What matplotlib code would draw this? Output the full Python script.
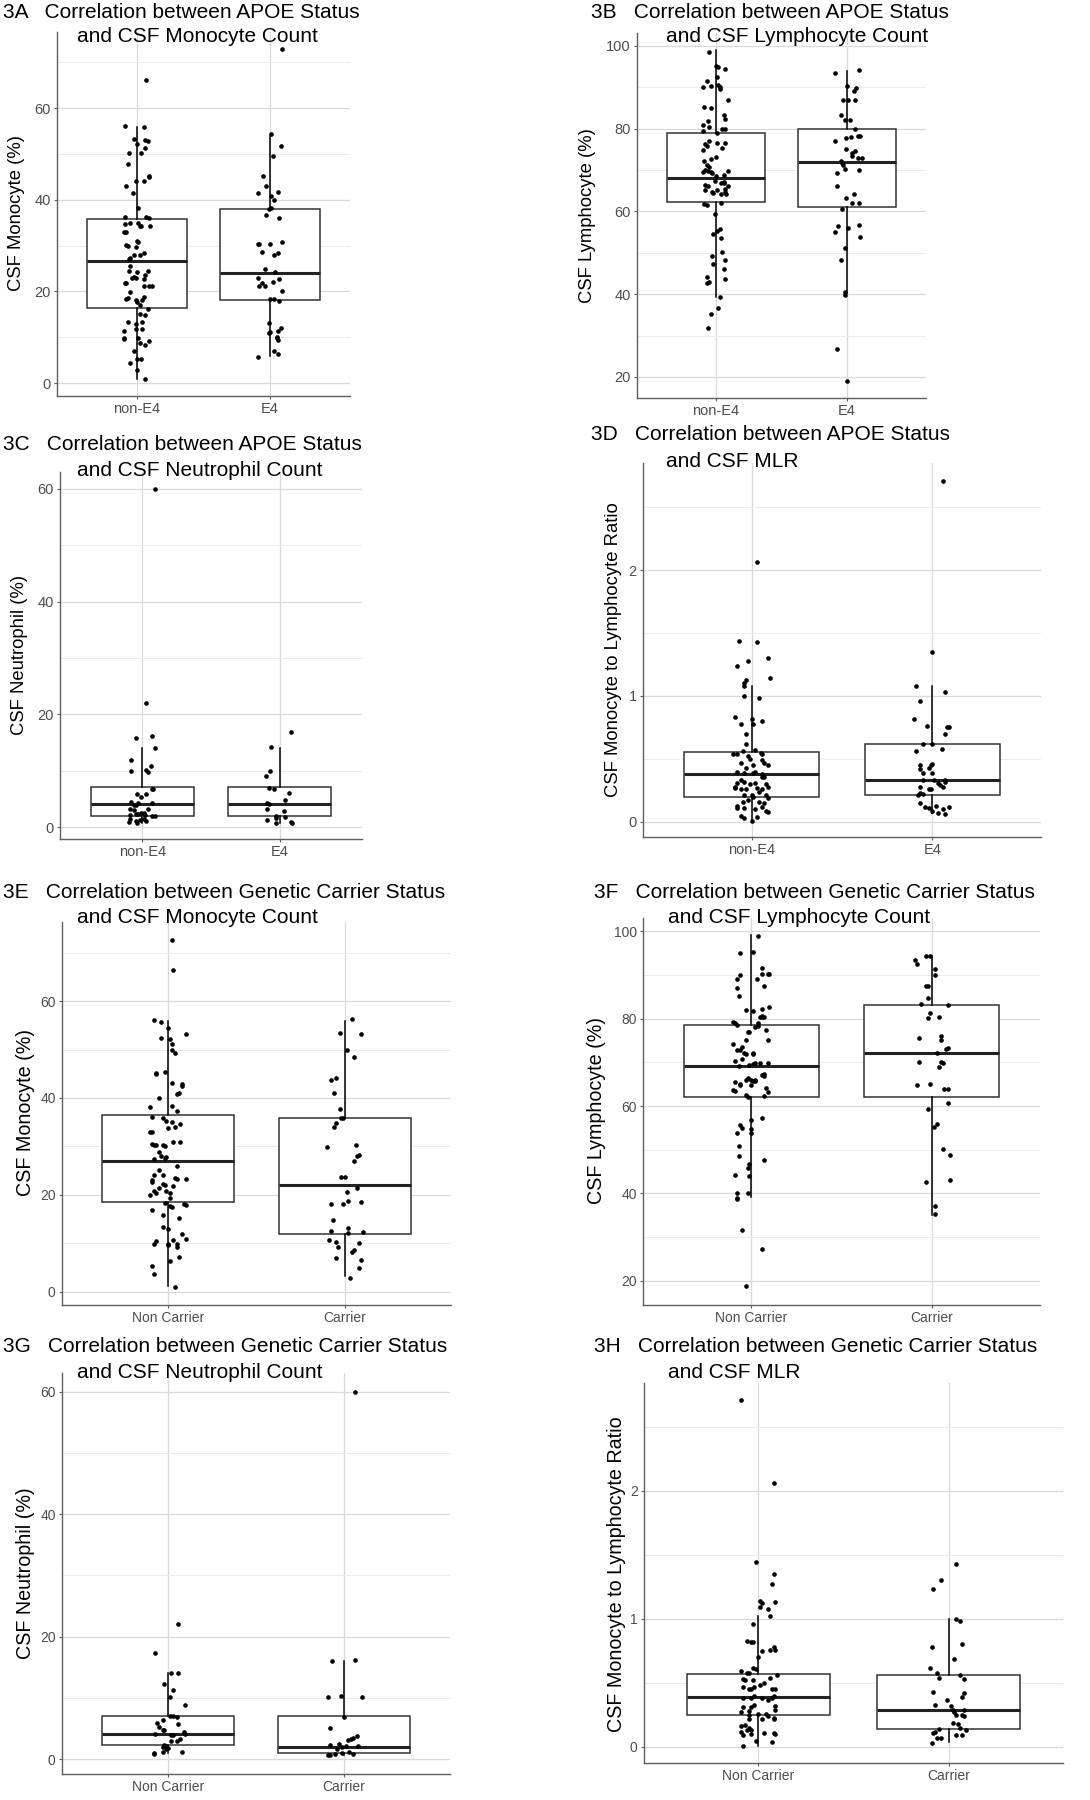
import matplotlib
matplotlib.use("Agg")
import matplotlib.pyplot as plt
from matplotlib.ticker import FixedLocator

plt.rcParams['font.family'] = ['Liberation Sans', 'DejaVu Sans']

W, H = 1090, 1800

# ---- data: each point is (horizontal jitter, value) ----
apoe_groups = ["non-E4", "E4"]
carrier_groups = ["Non Carrier", "Carrier"]

# box stats per group: (q1, median, q3, whisker low, whisker high)
box_a = [(16.3, 26.7, 35.8, 1.0, 55.9), (18.1, 24.0, 37.9, 6.0, 54.0)]
box_b = [(62.3, 68.0, 79.0, 39.2, 99.0), (61.0, 72.0, 80.0, 40.2, 94.0)]
box_c = [(2.0, 4.15, 7.05, 0.8, 14.0), (2.0, 4.15, 7.05, 0.8, 14.0)]
box_d = [(0.198, 0.383, 0.555, 0.01, 1.08), (0.217, 0.33, 0.616, 0.069, 1.08)]
box_e = [(18.5, 27.1, 36.5, 1.2, 55.9), (12.0, 22.1, 35.9, 3.2, 55.9)]
box_f = [(62.1, 69.1, 78.6, 39.2, 99.0), (62.1, 72.2, 83.1, 35.1, 94.3)]
box_g = [(2.3, 4.1, 7.0, 1.0, 14.0), (0.93, 2.0, 7.0, 0.6, 16.0)]
box_h = [(0.248, 0.389, 0.571, 0.01, 1.02), (0.143, 0.29, 0.558, 0.037, 1.0)]

pts_a_non = [(0.07, 66.1), (-0.09, 56.0), (0.05, 55.9), (-0.02, 53.2), (0.0, 52.2), (0.06, 53.1), (0.08, 52.8),
             (-0.06, 50.3), (0.03, 50.3), (0.06, 51.2), (-0.07, 47.9), (-0.01, 44.0), (0.05, 44.1), (0.09, 45.0),
             (0.09, 45.1), (-0.08, 43.1), (-0.03, 41.4), (0.01, 38.2), (-0.09, 36.2), (-0.05, 35.0), (-0.09, 34.7),
             (0.01, 35.0), (0.02, 34.2), (0.03, 34.3), (0.07, 36.2), (0.09, 36.0), (0.10, 34.2), (-0.08, 32.9),
             (-0.10, 32.9), (-0.08, 30.2), (0.0, 31.1), (0.01, 30.9), (-0.01, 29.8), (-0.07, 30.0), (0.02, 28.0),
             (-0.02, 27.9), (0.05, 28.3), (-0.05, 27.2), (-0.06, 27.0), (-0.05, 25.6), (-0.06, 24.4), (0.0, 24.3),
             (0.08, 24.4), (0.06, 23.5), (-0.02, 23.2), (-0.01, 22.9), (-0.04, 23.0), (0.05, 22.7), (-0.08, 21.9),
             (-0.09, 21.9), (0.11, 21.1), (0.09, 21.2), (0.05, 21.2), (-0.05, 19.8), (-0.07, 18.5), (-0.08, 18.4),
             (0.05, 18.8), (0.04, 18.2), (-0.01, 18.1), (0.0, 17.8), (0.02, 17.0), (0.08, 16.2), (0.02, 15.1),
             (0.06, 14.9), (-0.07, 13.3), (0.04, 13.3), (-0.01, 12.9), (0.04, 11.9), (-0.01, 11.9), (-0.10, 11.4),
             (-0.10, 9.9), (-0.10, 9.6), (0.01, 9.8), (0.02, 8.8), (0.09, 9.2), (0.06, 8.3), (-0.02, 7.1),
             (0.0, 5.3), (0.03, 5.3), (-0.05, 4.4), (0.0, 2.8), (0.06, 0.9)]
pts_a_e4 = [(0.09, 72.9), (0.01, 54.3), (0.08, 51.8), (0.02, 49.5), (-0.05, 45.2), (-0.03, 43.0), (-0.09, 41.4),
            (0.01, 40.8), (0.03, 40.0), (0.06, 41.7), (-0.01, 38.0), (0.01, 38.2), (-0.03, 36.7), (0.07, 36.1),
            (0.09, 30.9), (-0.09, 30.3), (-0.08, 30.3), (0.0, 30.3), (-0.06, 28.6), (0.03, 27.9), (0.06, 28.3),
            (-0.04, 24.9), (0.04, 24.3), (-0.09, 23.0), (0.07, 22.8), (-0.06, 21.8), (0.02, 22.1), (-0.08, 21.1),
            (-0.04, 21.1), (0.09, 20.2), (0.0, 18.4), (0.03, 18.4), (0.07, 17.9), (-0.01, 13.1), (0.08, 12.1),
            (0.06, 11.4), (-0.01, 10.9), (0.0, 11.1), (0.05, 10.0), (0.06, 9.5), (0.05, 9.8), (0.03, 7.1),
            (0.06, 6.3), (-0.09, 5.8)]

pts_b_non = [(-0.05, 98.6), (0.0, 95.1), (0.02, 95.0), (0.07, 94.3), (-0.07, 91.5), (0.01, 92.4), (-0.10, 90.0),
             (-0.04, 90.3), (0.02, 90.6), (0.03, 89.5), (0.03, 90.1), (0.09, 87.0), (-0.09, 85.2), (-0.04, 84.9),
             (0.06, 83.3), (0.07, 82.2), (-0.06, 81.9), (-0.10, 80.8), (-0.05, 80.3), (0.05, 80.0), (0.07, 79.8),
             (-0.10, 79.3), (0.01, 79.0), (-0.05, 76.9), (-0.08, 76.2), (-0.07, 75.9), (0.01, 76.6), (0.07, 76.6),
             (0.05, 75.2), (-0.10, 74.8), (0.0, 73.2), (-0.09, 72.2), (-0.04, 72.6), (-0.07, 71.3), (-0.05, 70.8),
             (-0.06, 69.8), (-0.08, 70.0), (-0.10, 69.6), (-0.04, 69.5), (-0.03, 69.3), (0.0, 68.6), (0.09, 69.7),
             (0.06, 68.8), (-0.01, 67.3), (0.06, 66.9), (-0.08, 66.4), (-0.06, 66.2), (0.04, 66.8), (0.06, 67.2),
             (0.09, 66.2), (-0.08, 65.1), (-0.03, 64.7), (0.01, 65.1), (0.07, 65.3), (0.07, 64.6), (-0.02, 64.5),
             (0.04, 64.1), (0.08, 64.1), (-0.09, 61.7), (-0.07, 61.5), (0.04, 62.0), (-0.01, 59.4), (-0.02, 54.6),
             (0.01, 55.3), (0.03, 55.7), (0.04, 53.6), (0.05, 50.1), (-0.03, 49.1), (0.07, 48.3), (-0.02, 47.4),
             (0.06, 46.0), (-0.07, 44.1), (0.07, 43.6), (-0.07, 42.8), (-0.05, 43.0), (0.03, 39.3), (0.02, 36.7),
             (-0.04, 35.3), (-0.06, 31.8)]
pts_b_e4 = [(-0.09, 93.4), (0.09, 94.2), (0.0, 90.4), (0.05, 89.1), (0.07, 89.7), (-0.03, 86.8), (0.01, 86.8),
            (0.06, 86.8), (-0.05, 83.3), (-0.02, 82.0), (0.02, 82.0), (0.06, 80.0), (0.08, 78.3), (0.10, 78.1),
            (-0.01, 77.7), (0.03, 77.9), (-0.09, 77.1), (-0.01, 75.0), (0.06, 74.6), (0.04, 74.0), (0.04, 73.4),
            (0.08, 73.0), (0.11, 73.0), (-0.05, 72.2), (-0.04, 71.8), (-0.03, 71.3), (-0.02, 70.2), (0.09, 70.1),
            (-0.08, 69.2), (-0.08, 66.2), (0.05, 64.1), (-0.01, 63.2), (0.04, 62.0), (0.09, 61.9), (-0.04, 60.6),
            (0.09, 56.8), (-0.07, 56.5), (0.01, 55.9), (-0.09, 55.0), (0.10, 53.9), (-0.02, 51.2), (-0.05, 48.2),
            (-0.02, 40.4), (-0.02, 39.9), (-0.08, 26.7), (0.0, 19.0)]

pts_c_non = [(0.09, 60.0), (0.03, 22.0), (-0.05, 15.9), (0.07, 16.1), (0.09, 14.0), (-0.08, 11.9), (0.06, 10.8),
             (-0.08, 10.0), (0.03, 10.1), (0.04, 9.7), (0.08, 6.8), (0.07, 6.7), (-0.04, 5.8), (0.03, 5.8),
             (-0.01, 5.3), (-0.08, 4.4), (-0.03, 4.3), (-0.05, 3.9), (0.07, 4.3), (-0.06, 3.9), (-0.09, 3.3),
             (0.04, 3.3), (-0.06, 3.1), (0.01, 2.6), (-0.01, 2.5), (-0.05, 2.4), (-0.03, 2.3), (-0.09, 2.2),
             (0.09, 1.9), (0.07, 2.0), (0.02, 2.1), (-0.09, 1.5), (-0.05, 1.1), (-0.02, 1.3), (0.01, 1.5),
             (-0.10, 1.0), (-0.04, 0.8), (0.03, 1.1)]
pts_c_e4 = [(0.08, 16.9), (-0.06, 14.3), (-0.07, 9.9), (-0.10, 9.1), (-0.08, 7.0), (-0.04, 6.8), (0.07, 6.0),
            (0.04, 4.8), (-0.09, 4.3), (-0.08, 4.1), (-0.09, 3.3), (0.03, 2.8), (-0.03, 2.0), (0.04, 1.8),
            (-0.03, 1.6), (-0.09, 1.2), (0.08, 1.0), (0.09, 0.8), (-0.03, 0.8)]

pts_d_non = [(0.03, 2.06), (-0.07, 1.44), (0.03, 1.43), (0.09, 1.30), (-0.02, 1.28), (-0.08, 1.24), (0.10, 1.14),
             (-0.03, 1.13), (-0.04, 1.10), (-0.04, 1.08), (-0.04, 1.00), (0.04, 0.98), (-0.09, 0.83), (0.0, 0.82),
             (0.01, 0.78), (-0.06, 0.78), (0.06, 0.80), (-0.03, 0.70), (-0.03, 0.62), (-0.10, 0.54), (-0.08, 0.54),
             (-0.05, 0.56), (-0.02, 0.52), (0.02, 0.57), (0.05, 0.55), (0.06, 0.54), (0.06, 0.49), (0.07, 0.47),
             (-0.01, 0.50), (-0.06, 0.47), (0.01, 0.45), (0.09, 0.45), (-0.03, 0.43), (-0.08, 0.40), (0.01, 0.39),
             (0.02, 0.40), (0.06, 0.38), (0.07, 0.36), (-0.04, 0.39), (0.06, 0.36), (-0.06, 0.33), (-0.04, 0.32),
             (-0.08, 0.31), (0.02, 0.31), (-0.01, 0.30), (0.08, 0.30), (-0.09, 0.28), (-0.09, 0.27), (-0.06, 0.26),
             (-0.03, 0.26), (0.03, 0.27), (0.09, 0.28), (0.06, 0.26), (0.04, 0.24), (-0.04, 0.21), (0.0, 0.21),
             (0.01, 0.20), (0.08, 0.21), (0.09, 0.19), (-0.05, 0.16), (-0.02, 0.17), (0.04, 0.16), (0.07, 0.15),
             (-0.08, 0.13), (-0.08, 0.11), (-0.04, 0.11), (0.02, 0.10), (0.06, 0.12), (0.08, 0.09), (0.09, 0.08),
             (-0.06, 0.05), (-0.04, 0.03), (0.03, 0.04), (0.0, 0.01)]
pts_d_e4 = [(0.06, 2.71), (0.0, 1.35), (-0.09, 1.08), (0.07, 1.03), (-0.07, 0.96), (-0.10, 0.82), (-0.03, 0.76),
            (0.08, 0.75), (0.09, 0.75), (0.07, 0.70), (-0.05, 0.62), (0.0, 0.62), (0.05, 0.58), (-0.09, 0.56),
            (-0.07, 0.45), (0.0, 0.46), (-0.01, 0.45), (-0.02, 0.43), (-0.07, 0.42), (-0.05, 0.39), (0.0, 0.39),
            (-0.05, 0.33), (0.01, 0.33), (0.07, 0.33), (0.07, 0.32), (-0.07, 0.28), (-0.02, 0.26), (-0.01, 0.26),
            (0.04, 0.29), (0.06, 0.28), (0.03, 0.31), (-0.07, 0.23), (-0.08, 0.21), (-0.05, 0.22), (-0.07, 0.15),
            (-0.04, 0.12), (-0.02, 0.11), (0.02, 0.13), (0.09, 0.12), (0.06, 0.10), (0.03, 0.07), (0.07, 0.06),
            (0.0, 0.09)]

pts_e_non = [(0.02, 72.6), (0.03, 66.4), (-0.08, 56.1), (-0.04, 55.7), (0.0, 54.4), (0.10, 53.2), (-0.04, 52.3),
             (0.01, 52.2), (0.02, 51.1), (0.02, 50.0), (0.04, 49.2), (-0.07, 45.2), (-0.07, 44.9), (-0.02, 45.3),
             (0.02, 43.0), (0.08, 42.9), (0.08, 42.5), (0.05, 40.8), (0.06, 41.0), (-0.05, 40.0), (-0.10, 38.1),
             (0.02, 38.3), (0.05, 37.4), (-0.09, 36.0), (-0.03, 35.8), (-0.01, 35.2), (0.02, 35.1), (0.07, 34.7),
             (0.0, 33.8), (0.04, 34.0), (-0.10, 32.9), (-0.09, 32.9), (0.03, 31.0), (0.07, 30.9), (-0.09, 30.5),
             (-0.08, 30.2), (-0.07, 30.4), (-0.03, 30.2), (-0.02, 30.0), (-0.05, 28.8), (-0.04, 28.1), (-0.01, 27.8),
             (-0.08, 27.4), (-0.02, 27.6), (0.05, 26.0), (-0.05, 25.2), (-0.08, 24.1), (-0.03, 24.1), (-0.09, 23.0),
             (-0.09, 22.6), (0.04, 23.4), (0.05, 23.2), (0.10, 23.3), (-0.05, 21.4), (-0.08, 20.9), (-0.03, 22.3),
             (-0.02, 22.1), (0.03, 21.9), (-0.01, 20.8), (0.01, 20.5), (-0.07, 20.3), (-0.10, 20.0), (0.01, 19.4),
             (-0.02, 18.4), (0.09, 18.1), (0.10, 17.9), (0.01, 17.7), (0.02, 17.5), (-0.09, 16.8), (-0.03, 15.8),
             (0.06, 15.3), (-0.03, 13.4), (0.0, 13.0), (0.08, 12.0), (0.03, 10.8), (0.10, 10.9), (-0.07, 10.6),
             (-0.08, 9.9), (0.0, 9.8), (0.05, 9.8), (0.05, 9.2), (0.0, 9.6), (0.06, 7.1), (0.01, 6.4),
             (-0.09, 5.3), (-0.08, 3.7), (0.04, 1.0)]
pts_e_car = [(0.04, 56.3), (-0.03, 53.4), (0.09, 53.1), (0.01, 49.8), (0.05, 48.4), (-0.08, 43.7), (-0.05, 44.2),
             (-0.06, 41.0), (-0.03, 37.7), (-0.02, 35.8), (-0.01, 35.8), (-0.05, 34.9), (-0.06, 34.0), (-0.10, 29.8),
             (0.06, 30.2), (0.07, 28.1), (0.08, 28.2), (0.05, 27.1), (-0.02, 23.8), (0.0, 23.8), (0.07, 21.5),
             (0.01, 20.6), (0.02, 18.7), (-0.01, 18.1), (0.09, 18.6), (-0.08, 18.1), (-0.07, 14.9), (0.02, 13.2),
             (-0.08, 12.6), (0.10, 12.4), (0.02, 12.1), (-0.09, 10.7), (-0.05, 10.2), (0.08, 10.0), (-0.04, 9.3),
             (0.05, 8.7), (0.04, 8.2), (-0.05, 6.9), (0.09, 6.5), (0.08, 4.9), (0.03, 2.9)]

pts_f_non = [(0.04, 98.9), (-0.06, 95.1), (0.01, 95.2), (0.06, 91.5), (-0.08, 89.0), (-0.06, 90.0), (0.03, 89.1),
             (0.06, 90.2), (0.09, 90.2), (0.10, 90.1), (0.07, 87.5), (-0.08, 87.1), (-0.07, 85.2), (-0.03, 82.0),
             (0.01, 81.7), (0.06, 82.2), (0.10, 82.6), (0.05, 80.4), (0.06, 80.4), (0.07, 80.3), (0.06, 80.5),
             (-0.10, 79.3), (-0.09, 78.9), (-0.08, 78.5), (0.04, 79.1), (0.04, 78.2), (0.02, 78.0), (0.08, 77.4),
             (-0.02, 77.0), (-0.01, 76.9), (-0.03, 75.1), (0.09, 75.1), (-0.10, 74.3), (-0.05, 73.5), (-0.08, 72.8),
             (-0.06, 72.7), (-0.04, 72.1), (-0.03, 72.0), (0.01, 72.1), (0.01, 71.8), (-0.05, 70.7), (-0.09, 70.4),
             (0.01, 69.6), (0.02, 69.9), (0.05, 69.8), (0.09, 69.8), (-0.07, 69.1), (-0.01, 69.4), (0.06, 67.1),
             (0.07, 67.3), (0.07, 66.9), (-0.09, 65.6), (-0.06, 65.0), (-0.03, 66.0), (-0.02, 66.4), (0.0, 65.9),
             (0.01, 65.7), (0.02, 65.8), (0.02, 66.0), (-0.06, 64.8), (0.0, 64.7), (-0.10, 63.7), (-0.09, 63.4),
             (0.08, 64.1), (0.09, 63.2), (-0.03, 62.6), (-0.02, 62.1), (0.07, 62.4), (0.06, 57.2), (0.0, 56.9),
             (-0.06, 55.6), (-0.05, 55.0), (0.0, 54.7), (-0.08, 53.8), (0.0, 53.8), (-0.07, 50.8), (-0.07, 48.5),
             (0.07, 47.7), (-0.01, 46.8), (-0.02, 45.8), (-0.01, 44.0), (-0.09, 44.2), (-0.08, 40.1), (-0.02, 40.0),
             (-0.08, 39.0), (-0.08, 38.7), (-0.05, 31.7), (0.06, 27.3), (-0.03, 18.8)]
pts_f_car = [(-0.03, 94.4), (-0.01, 94.3), (-0.09, 93.3), (-0.08, 92.5), (0.02, 91.3), (0.02, 90.0), (-0.03, 87.5),
             (-0.02, 87.5), (-0.02, 84.8), (-0.06, 83.3), (0.09, 83.0), (-0.01, 81.3), (-0.02, 80.1), (0.04, 80.3),
             (-0.07, 75.5), (0.05, 76.1), (0.05, 75.2), (0.09, 73.2), (0.08, 73.1), (0.03, 72.2), (-0.07, 70.1),
             (0.05, 70.1), (0.06, 69.9), (0.04, 68.9), (-0.08, 64.7), (-0.01, 65.1), (0.07, 64.0), (0.09, 64.0),
             (0.09, 60.8), (-0.02, 59.4), (0.03, 56.0), (0.01, 55.1), (0.06, 50.2), (0.10, 48.9), (-0.03, 42.7),
             (0.10, 43.0), (0.02, 37.1), (0.02, 35.2)]

pts_g_non = [(0.06, 22.1), (-0.07, 17.3), (0.02, 14.1), (0.06, 14.1), (-0.02, 12.2), (0.03, 11.2), (0.01, 10.1),
             (0.10, 8.8), (0.01, 7.1), (0.03, 7.0), (0.05, 6.9), (-0.03, 6.4), (-0.06, 5.9), (-0.05, 5.2),
             (0.06, 5.7), (-0.03, 4.7), (-0.02, 4.7), (-0.07, 4.1), (0.09, 4.4), (0.10, 4.1), (0.02, 3.9),
             (0.03, 3.9), (0.05, 3.0), (0.07, 3.2), (0.02, 3.0), (-0.02, 2.3), (-0.01, 2.1), (-0.01, 2.0),
             (-0.03, 2.0), (-0.01, 1.7), (0.0, 1.8), (-0.08, 1.0), (-0.08, 0.9), (-0.03, 1.1), (0.08, 1.1)]
pts_g_car = [(0.06, 60.0), (-0.07, 16.0), (0.06, 16.2), (-0.09, 10.2), (-0.02, 10.3), (0.10, 10.1), (0.0, 6.8),
             (-0.08, 5.0), (0.07, 3.8), (0.05, 3.4), (0.04, 3.3), (0.02, 3.1), (-0.08, 2.3), (-0.03, 2.5),
             (0.01, 2.1), (0.08, 2.2), (-0.04, 1.7), (-0.01, 2.0), (0.03, 1.1), (0.05, 0.8), (-0.01, 1.0),
             (-0.09, 0.7), (-0.08, 0.6), (-0.05, 0.8)]

pts_h_non = [(-0.09, 2.71), (0.08, 2.06), (-0.01, 1.44), (0.08, 1.35), (0.07, 1.27), (0.09, 1.13), (0.01, 1.14),
             (0.02, 1.12), (0.01, 1.09), (0.05, 1.08), (0.06, 1.02), (-0.03, 0.96), (-0.06, 0.83), (-0.04, 0.82),
             (-0.03, 0.82), (0.02, 0.75), (0.06, 0.76), (0.08, 0.78), (0.09, 0.76), (0.0, 0.70), (-0.03, 0.62),
             (-0.01, 0.61), (-0.09, 0.59), (-0.06, 0.58), (-0.05, 0.58), (0.10, 0.56), (-0.08, 0.53), (-0.07, 0.52),
             (-0.03, 0.52), (0.03, 0.50), (0.06, 0.54), (-0.08, 0.47), (-0.05, 0.45), (-0.04, 0.45), (-0.02, 0.47),
             (0.01, 0.48), (0.09, 0.45), (0.07, 0.45), (-0.08, 0.38), (-0.04, 0.38), (-0.02, 0.40), (0.02, 0.38),
             (0.05, 0.37), (0.07, 0.38), (0.08, 0.40), (-0.08, 0.31), (-0.04, 0.31), (-0.02, 0.33), (0.09, 0.32),
             (0.09, 0.29), (-0.09, 0.27), (-0.05, 0.28), (-0.05, 0.25), (0.0, 0.26), (0.04, 0.26), (0.05, 0.24),
             (0.08, 0.22), (-0.05, 0.22), (0.02, 0.22), (0.08, 0.23), (-0.09, 0.16), (-0.07, 0.17), (-0.05, 0.15),
             (-0.06, 0.13), (-0.04, 0.13), (-0.09, 0.12), (-0.08, 0.09), (-0.04, 0.10), (0.03, 0.11), (0.08, 0.11),
             (0.09, 0.10), (-0.01, 0.05), (0.07, 0.04), (-0.08, 0.01)]
pts_h_car = [(0.04, 1.43), (-0.04, 1.30), (-0.08, 1.23), (0.04, 1.00), (0.06, 0.98), (-0.09, 0.78), (0.07, 0.80),
             (0.03, 0.69), (-0.10, 0.62), (-0.06, 0.58), (-0.05, 0.54), (0.06, 0.56), (0.08, 0.53), (-0.08, 0.43),
             (0.08, 0.42), (0.07, 0.39), (-0.07, 0.33), (-0.01, 0.37), (0.01, 0.32), (0.02, 0.29), (0.03, 0.27),
             (0.08, 0.29), (0.04, 0.25), (0.08, 0.24), (0.07, 0.25), (0.02, 0.19), (0.05, 0.18), (-0.05, 0.14),
             (0.06, 0.15), (0.09, 0.13), (-0.07, 0.12), (-0.08, 0.11), (0.04, 0.09), (0.07, 0.09), (-0.04, 0.07),
             (-0.06, 0.07), (-0.09, 0.03)]

# ---- layout (pixels in the 1090x1800 figure) ----
panels = [
    dict(rect=(57, 350, 32, 396), ylim=(-2.8, 76.6), major=[0, 20, 40, 60], minor=[10, 30, 50, 70],
         cats=apoe_groups, boxes=box_a, pts=[pts_a_non, pts_a_e4], ylabel="CSF Monocyte (%)", ylab_xy=(17, 213),
         t1="3A   Correlation between APOE Status", t1_xy=(3, 12),
         t2="and CSF Monocyte Count", t2_xy=(77, 37), fs=(13.3, 10.5)),
    dict(rect=(637, 926, 33, 398), ylim=(14.9, 103.1), major=[20, 40, 60, 80, 100], minor=[30, 50, 70, 90],
         cats=apoe_groups, boxes=box_b, pts=[pts_b_non, pts_b_e4], ylabel="CSF Lymphocyte (%)", ylab_xy=(588, 216),
         t1="3B   Correlation between APOE Status", t1_xy=(591, 12),
         t2="and CSF Lymphocyte Count", t2_xy=(666, 37), fs=(13.3, 10.5)),
    dict(rect=(60, 362, 472, 839), ylim=(-2.1, 63.0), major=[0, 20, 40, 60], minor=[10, 30, 50],
         cats=apoe_groups, boxes=box_c, pts=[pts_c_non, pts_c_e4], ylabel="CSF Neutrophil (%)", ylab_xy=(20, 655),
         t1="3C   Correlation between APOE Status", t1_xy=(3, 445),
         t2="and CSF Neutrophil Count", t2_xy=(77, 471), fs=(13.3, 10.5)),
    dict(rect=(643, 1041, 463, 837), ylim=(-0.12, 2.85), major=[0, 1, 2], minor=[0.5, 1.5, 2.5],
         cats=apoe_groups, boxes=box_d, pts=[pts_d_non, pts_d_e4], ylabel="CSF Monocyte to Lymphocyte Ratio",
         ylab_xy=(614, 650),
         t1="3D   Correlation between APOE Status", t1_xy=(591, 435),
         t2="and CSF MLR", t2_xy=(666, 461), fs=(13.3, 10.5)),
    dict(rect=(62, 451, 922, 1305), ylim=(-2.7, 76.3), major=[0, 20, 40, 60], minor=[10, 30, 50, 70],
         cats=carrier_groups, boxes=box_e, pts=[pts_e_non, pts_e_car], ylabel="CSF Monocyte (%)", ylab_xy=(26, 1112),
         t1="3E   Correlation between Genetic Carrier Status", t1_xy=(3, 892),
         t2="and CSF Monocyte Count", t2_xy=(77, 917), fs=(14.2, 10)),
    dict(rect=(643, 1040, 918, 1305), ylim=(14.5, 103.0), major=[20, 40, 60, 80, 100], minor=[30, 50, 70, 90],
         cats=carrier_groups, boxes=box_f, pts=[pts_f_non, pts_f_car], ylabel="CSF Lymphocyte (%)", ylab_xy=(596, 1110),
         t1="3F   Correlation between Genetic Carrier Status", t1_xy=(594, 892),
         t2="and CSF Lymphocyte Count", t2_xy=(668, 917), fs=(14.2, 10)),
    dict(rect=(62, 450, 1373, 1774), ylim=(-2.45, 63.1), major=[0, 20, 40, 60], minor=[10, 30, 50],
         cats=carrier_groups, boxes=box_g, pts=[pts_g_non, pts_g_car], ylabel="CSF Neutrophil (%)", ylab_xy=(26, 1573),
         t1="3G   Correlation between Genetic Carrier Status", t1_xy=(3, 1347),
         t2="and CSF Neutrophil Count", t2_xy=(77, 1373), fs=(14.2, 10)),
    dict(rect=(644, 1063, 1383, 1763), ylim=(-0.125, 2.84), major=[0, 1, 2], minor=[0.5, 1.5, 2.5],
         cats=carrier_groups, boxes=box_h, pts=[pts_h_non, pts_h_car], ylabel="CSF Monocyte to Lymphocyte Ratio",
         ylab_xy=(616, 1574),
         t1="3H   Correlation between Genetic Carrier Status", t1_xy=(594, 1347),
         t2="and CSF MLR", t2_xy=(668, 1373), fs=(14.2, 10)),
]


def draw_panel(fig, p):
    l, r, t, b = p["rect"]
    ax = fig.add_axes([l / W, 1 - b / H, (r - l) / W, (b - t) / H])
    ax.set_axisbelow(True)

    stats = [dict(q1=q1, med=med, q3=q3, whislo=lo, whishi=hi, fliers=[])
             for q1, med, q3, lo, hi in p["boxes"]]
    ax.bxp(stats, positions=[1, 2], widths=0.75, patch_artist=True, manage_ticks=False,
           showcaps=False, showfliers=False,
           boxprops=dict(facecolor="white", edgecolor="#333333", linewidth=1.1),
           medianprops=dict(color="#222222", linewidth=2.2, solid_capstyle="butt"),
           whiskerprops=dict(color="black", linewidth=1.1))

    for i, grp in enumerate(p["pts"]):
        xs = [i + 1 + off for off, v in grp]
        ys = [v for off, v in grp]
        ax.scatter(xs, ys, s=11, color="black", linewidths=0, zorder=5)

    ax.set_xlim(0.4, 2.6)
    ax.set_ylim(*p["ylim"])
    ax.yaxis.set_major_locator(FixedLocator(p["major"]))
    ax.yaxis.set_minor_locator(FixedLocator(p["minor"]))
    ax.set_yticklabels([f"{v:g}" for v in p["major"]])
    ax.set_xticks([1, 2])
    ax.set_xticklabels(p["cats"])
    ax.grid(which="major", color="#d9d9d9", linewidth=0.9)
    ax.grid(which="minor", axis="y", color="#ebebeb", linewidth=0.7)

    for side in ("top", "right"):
        ax.spines[side].set_visible(False)
    for side in ("left", "bottom"):
        ax.spines[side].set_color("#5f5f5f")
        ax.spines[side].set_linewidth(1.0)
    ax.tick_params(which="major", length=2.5, width=0.8, color="#5f5f5f",
                   labelsize=p["fs"][1], labelcolor="#4d4d4d", pad=2)
    ax.tick_params(which="minor", length=0)

    lx, ly = p["ylab_xy"]
    fig.text(lx / W, 1 - ly / H, p["ylabel"], rotation=90, ha="center", va="center",
             fontsize=p["fs"][0], color="black")
    x1, y1 = p["t1_xy"]
    fig.text(x1 / W, 1 - y1 / H, p["t1"], ha="left", va="center", fontsize=15, color="black")
    x2, y2 = p["t2_xy"]
    fig.text(x2 / W, 1 - y2 / H, p["t2"], ha="left", va="center", fontsize=15, color="black")


fig = plt.figure(figsize=(W / 100, H / 100), dpi=100)
fig.patch.set_facecolor("white")
for p in panels:
    draw_panel(fig, p)

fig.savefig("out.png", dpi=100, facecolor="white")
